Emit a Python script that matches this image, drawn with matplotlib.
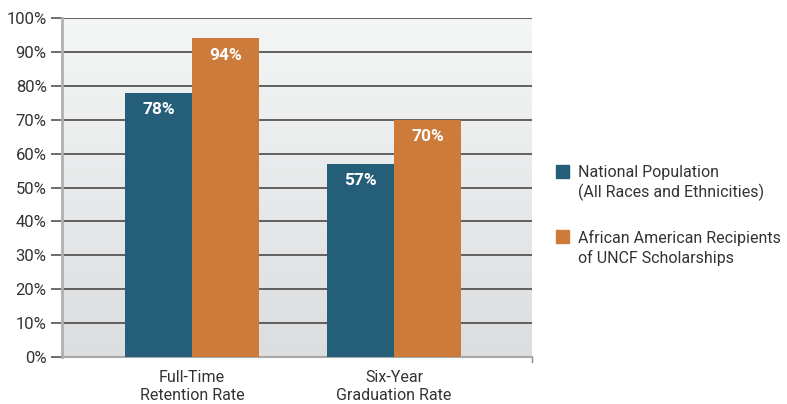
import numpy as np
import matplotlib.pyplot as plt
from matplotlib.patches import Rectangle

categories = ["Full-Time\nRetention Rate", "Six-Year\nGraduation Rate"]
national = [78, 57]
uncf = [94, 70]
series_names = ["National Population\n(All Races and Ethnicities)",
                "African American Recipients\nof UNCF Scholarships"]
yticks = list(range(0, 101, 10))

TEAL = "#245e78"
ORANGE = "#cd7b3a"
TXT = "#333333"

plt.rcParams['font.family'] = ['Roboto', 'DejaVu Sans']

fig = plt.figure(figsize=(7.87, 4.04), dpi=100)
ax = fig.add_axes([62 / 787, 47 / 404, 470 / 787, 339 / 404])

# soft vertical gradient behind the bars
grad = np.linspace(0, 1, 256).reshape(-1, 1)
ax.imshow(grad, extent=[0, 1, 0, 1], transform=ax.transAxes, aspect='auto',
          cmap=plt.matplotlib.colors.LinearSegmentedColormap.from_list(
              'bg', ["#f4f5f5", "#dcdddf"]), zorder=0)

x = np.arange(len(categories))
w = 0.33
b1 = ax.bar(x - w / 2, national, w, color=TEAL, zorder=3)
b2 = ax.bar(x + w / 2, uncf, w, color=ORANGE, zorder=3)

for bars, vals in [(b1, national), (b2, uncf)]:
    for rect, v in zip(bars, vals):
        ax.annotate(f"{v}%", (rect.get_x() + rect.get_width() / 2, v),
                    xytext=(0, -12), textcoords='offset points',
                    ha='center', va='center', color='white',
                    fontsize=12.5, fontweight='bold', zorder=4)

ax.set_xlim(-0.644, 1.683)
ax.set_ylim(0, 100)
ax.set_yticks(yticks)
ax.set_yticklabels([f"{t}%" for t in yticks], fontsize=12, color=TXT)
ax.set_xticks(x)
ax.set_xticklabels(categories, fontsize=11.5, color=TXT, linespacing=1.3)
ax.tick_params(axis='x', length=0, pad=9)
ax.tick_params(axis='y', length=8, width=1.2, color="#555555", pad=3)

for t in yticks[1:]:
    ax.axhline(t, color="#555555", lw=1.3, zorder=2)

for s in ['top', 'right']:
    ax.spines[s].set_visible(False)
ax.spines['left'].set_color("#b0b0b0")
ax.spines['left'].set_linewidth(2)
ax.spines['bottom'].set_color("#a8a8a8")
ax.spines['bottom'].set_linewidth(1.5)
ax.plot([1, 1], [0, -0.015], transform=ax.transAxes, color="#888888",
        lw=1, clip_on=False)

# legend drawn by hand so the swatch lines up with the first text line
for i, (name, col) in enumerate(zip(series_names, [TEAL, ORANGE])):
    top = 165 + i * 65
    fig.add_artist(Rectangle((556 / 787, 1 - (top + 13) / 404), 13 / 787,
                             13 / 404, transform=fig.transFigure,
                             color=col))
    fig.text(578 / 787, 1 - top / 404, name, ha='left', va='top',
             fontsize=11.5, color=TXT, linespacing=1.3)

fig.savefig("out.png", dpi=100)
